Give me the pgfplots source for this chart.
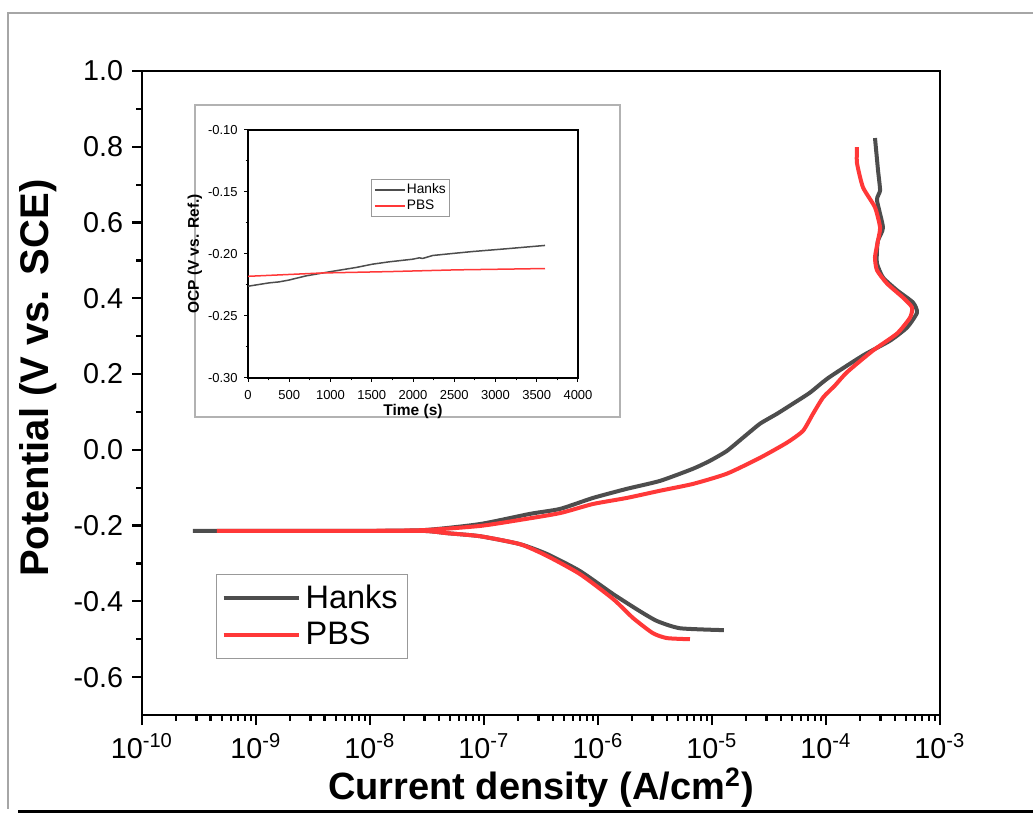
\documentclass[border=0pt]{standalone}
\usepackage{fontspec}
\setmainfont{Liberation Sans}
\usepackage{pgfplots}
\pgfplotsset{compat=1.18}

\definecolor{hanks}{RGB}{77,77,77}
\definecolor{pbs}{RGB}{255,56,56}

% Hanks polarisation sweep: current density (A/cm2), potential (V vs SCE)
\pgfplotstableread{
i v
1.27e-5 -0.476
5.24e-6 -0.471
3.30e-6 -0.452
2.33e-6 -0.426
1.36e-6 -0.381
6.95e-7 -0.320
3.57e-7 -0.275
2.07e-7 -0.249
9.2e-8 -0.228
4.73e-8 -0.220
2.92e-8 -0.214
6.69e-9 -0.214
8.85e-10 -0.214
2.80e-10 -0.214
8.85e-10 -0.214
6.69e-9 -0.214
2.92e-8 -0.212
9.2e-8 -0.196
2.54e-7 -0.169
4.65e-7 -0.156
9.04e-7 -0.127
1.79e-6 -0.103
3.50e-6 -0.082
6.81e-6 -0.050
9.59e-6 -0.029
1.35e-5 -0.003
1.87e-5 0.032
2.64e-5 0.069
3.71e-5 0.095
5.14e-5 0.122
7.24e-5 0.151
1.05e-4 0.190
2.11e-4 0.249
3.64e-4 0.288
5.14e-4 0.323
6.28e-4 0.362
5.79e-4 0.389
4.20e-4 0.421
3.16e-4 0.455
2.80e-4 0.492
2.80e-4 0.526
2.86e-4 0.553
3.16e-4 0.587
2.80e-4 0.659
2.98e-4 0.685
2.86e-4 0.738
2.69e-4 0.823
}\hanks

% PBS polarisation sweep
\pgfplotstableread{
i v
6.41e-6 -0.500
4.03e-6 -0.497
3.03e-6 -0.484
2.03e-6 -0.444
1.36e-6 -0.394
6.95e-7 -0.328
3.57e-7 -0.280
2.07e-7 -0.249
9.2e-8 -0.228
4.73e-8 -0.220
2.92e-8 -0.214
6.69e-9 -0.214
8.85e-10 -0.214
4.55e-10 -0.214
8.85e-10 -0.214
6.69e-9 -0.214
2.92e-8 -0.212
9.2e-8 -0.201
2.07e-7 -0.185
4.65e-7 -0.167
9.04e-7 -0.143
1.79e-6 -0.127
3.50e-6 -0.108
6.81e-6 -0.090
1.35e-5 -0.063
2.64e-5 -0.021
4.55e-5 0.019
6.28e-5 0.050
7.69e-5 0.095
9.42e-5 0.138
1.20e-4 0.170
1.53e-4 0.205
2.58e-4 0.262
4.20e-4 0.307
5.46e-4 0.349
5.68e-4 0.376
4.73e-4 0.402
3.43e-4 0.439
2.80e-4 0.474
2.69e-4 0.508
2.86e-4 0.553
2.98e-4 0.587
2.69e-4 0.640
2.11e-4 0.693
1.87e-4 0.757
1.87e-4 0.799
}\pbs

% inset: open circuit potential vs time
\pgfplotstableread{
t v
0 -0.226
255 -0.2233
376 -0.2225
498 -0.2210
700 -0.2177
984 -0.2144
1308 -0.2109
1510 -0.2082
1713 -0.2063
1996 -0.2042
2077 -0.2031
2117 -0.2036
2239 -0.2012
2522 -0.1993
2725 -0.1980
3129 -0.1958
3600 -0.1931
}\ocphanks

\pgfplotstableread{
t v
0 -0.2180
903 -0.2153
1713 -0.2142
2522 -0.2128
3332 -0.2120
3600 -0.2117
}\ocppbs

\begin{document}
\begin{tikzpicture}
\useasboundingbox (0,0) rectangle (1033*0.4pt,814*0.4pt);
\draw[gray!70, line width=0.5pt] (1033*0.4pt,801*0.4pt) -- (8*0.4pt,801*0.4pt) -- (8*0.4pt,5*0.4pt);
\draw[black, line width=1.4pt] (18*0.4pt,2.5*0.4pt) -- (1033*0.4pt,2.5*0.4pt);

\begin{axis}[
  at={(142*0.4pt,99*0.4pt)}, anchor=south west,
  width=319.2pt, height=257.6pt, scale only axis,
  xmode=log, xmin=1e-10, xmax=1e-3,
  ymin=-0.7, ymax=1.0,
  xtick={1e-10,1e-9,1e-8,1e-7,1e-6,1e-5,1e-4,1e-3},
  xticklabels={10\textsuperscript{-10},10\textsuperscript{-9},10\textsuperscript{-8},10\textsuperscript{-7},10\textsuperscript{-6},10\textsuperscript{-5},10\textsuperscript{-4},10\textsuperscript{-3}},
  ytick={-0.6,-0.4,-0.2,0,0.2,0.4,0.6,0.8,1.0},
  yticklabels={-0.6,-0.4,-0.2,0.0,0.2,0.4,0.6,0.8,1.0},
  minor y tick num=1,
  tick align=outside, xtick pos=left, ytick pos=left,
  major tick length=4pt, minor tick length=2.2pt,
  every tick/.style={black, line width=0.9pt},
  axis line style={line width=1.1pt},
  tick label style={font=\fontsize{11.5}{13}\selectfont},
  xlabel={\textbf{Current density (A/cm\textsuperscript{2})}},
  ylabel={\textbf{Potential (V vs. SCE)}},
  label style={font=\fontsize{16}{18}\selectfont},
  xlabel style={yshift=3.5pt, font=\fontsize{15.2}{17}\selectfont},
  ylabel style={at={(ticklabel cs:0.523)}},
  legend style={at={(rel axis cs:0.0927,0.219)}, anchor=north west,
    draw=gray!80, line width=0.5pt, font=\fontsize{13}{15}\selectfont,
    inner xsep=2pt, inner ysep=2pt, row sep=0pt},
  legend cell align=left,
  legend image code/.code={\draw[#1] (0pt,0pt) -- (30pt,0pt);},
]
\addplot[hanks, line width=1.6pt, smooth, tension=0.35] table[x=i, y=v] {\hanks};
\addlegendentry{Hanks}
\addplot[pbs, line width=1.6pt, smooth, tension=0.35] table[x=i, y=v] {\pbs};
\addlegendentry{PBS}
\end{axis}

\draw[gray!60, fill=white, line width=0.5pt] (195*0.4pt,397*0.4pt) rectangle (620*0.4pt,709*0.4pt);

\begin{axis}[
  at={(248*0.4pt,436*0.4pt)}, anchor=south west,
  width=132pt, height=99.2pt, scale only axis,
  xmin=0, xmax=4000, ymin=-0.30, ymax=-0.10,
  xtick={0,500,1000,1500,2000,2500,3000,3500,4000},
  xticklabels={0,500,1000,1500,2000,2500,3000,3500,4000},
  ytick={-0.30,-0.25,-0.20,-0.15,-0.10},
  yticklabels={-0.30,-0.25,-0.20,-0.15,-0.10},
  minor tick num=1,
  tick align=outside, xtick pos=left, ytick pos=left,
  major tick length=1.6pt, minor tick length=1pt,
  every tick/.style={black, line width=0.4pt},
  axis line style={line width=0.5pt},
  tick label style={font=\fontsize{5.2}{6}\selectfont},
  yticklabel style={xshift=1pt},
  xlabel={\textbf{Time (s)}},
  ylabel={\textbf{OCP (V vs. Ref.)}},
  label style={font=\fontsize{6.2}{7}\selectfont},
  xlabel shift=-5pt,
  ylabel shift=-4.5pt,
  legend style={at={(rel axis cs:0.373,0.802)}, anchor=north west,
    draw=gray!80, line width=0.4pt, font=\fontsize{5.5}{6}\selectfont,
    inner xsep=1pt, inner ysep=1pt, nodes={inner sep=0.5pt}},
  legend cell align=left,
  legend image code/.code={\draw[#1] (0pt,0pt) -- (12pt,0pt);},
]
\addplot[hanks, line width=0.6pt] table[x=t, y=v] {\ocphanks};
\addlegendentry{Hanks}
\addplot[pbs, line width=0.6pt] table[x=t, y=v] {\ocppbs};
\addlegendentry{PBS}
\end{axis}
\end{tikzpicture}
\end{document}
